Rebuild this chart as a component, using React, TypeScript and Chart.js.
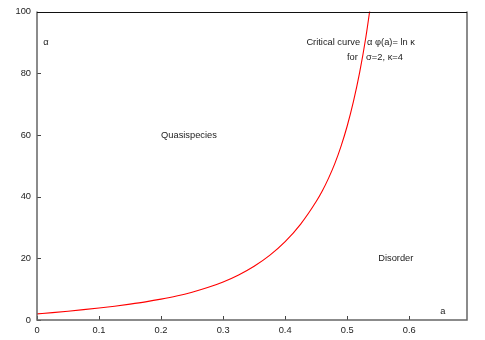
import React, { useEffect, useRef } from "react";
import { Chart, registerables } from "chart.js";

Chart.register(...registerables);

// Critical curve α(a)
const A_VALUES = [
  0, 0.025, 0.05, 0.075, 0.1, 0.125, 0.15, 0.175, 0.2, 0.225, 0.25, 0.275, 0.3, 0.325, 0.35, 0.375, 0.4, 0.425, 0.45,
  0.46, 0.47, 0.48, 0.49, 0.5, 0.51, 0.52, 0.53, 0.54,
];
const ALPHA_VALUES = [
  2.0, 2.4, 2.85, 3.35, 3.89, 4.48, 5.15, 5.89, 6.76, 7.77, 9.01, 10.51, 12.34, 14.61, 17.43, 20.95, 25.4, 31.1, 38.4,
  41.9, 46.0, 50.7, 56.3, 62.9, 70.8, 80.2, 91.6, 105.5,
];

const X_TICKS = [0, 0.1, 0.2, 0.3, 0.4, 0.5, 0.6];
const Y_TICKS = [0, 20, 40, 60, 80, 100];
const X_MIN = 0;
const X_MAX = 0.6931;
const Y_MIN = 0;
const Y_MAX = 100;

// Text labels: [text, a, alpha, align]
const LABELS: [string, number, number, CanvasTextAlign][] = [
  ["α", 0.01, 90, "left"],
  ["Quasispecies", 0.2, 60, "left"],
  ["Disorder", 0.55, 20, "left"],
  ["a", 0.65, 2.7, "left"],
  ["Critical curve", 0.5208, 90, "right"],
  ["α φ(a)= ln κ", 0.5321, 90, "left"],
  ["for", 0.517, 85, "right"],
  ["σ=2, κ=4", 0.5305, 85, "left"],
];

const FONT_FAMILY = "'Liberation Sans', Arial, Helvetica, sans-serif";
const FONT_SIZE = 9.3;

const framePlugin = {
  id: "frame",
  afterDraw(chart: any) {
    const { ctx, chartArea } = chart;
    const xs = chart.scales.x;
    const ys = chart.scales.y;
    const { left, right, top, bottom } = chartArea;
    ctx.save();
    // ticks (inside)
    ctx.strokeStyle = "#444";
    ctx.lineWidth = 1;
    ctx.beginPath();
    X_TICKS.forEach((v) => {
      const px = Math.round(xs.getPixelForValue(v)) + 0.5;
      ctx.moveTo(px, bottom);
      ctx.lineTo(px, bottom - 4);
    });
    Y_TICKS.forEach((v) => {
      const py = Math.round(ys.getPixelForValue(v)) + 0.5;
      ctx.moveTo(left, py);
      ctx.lineTo(left + 4, py);
    });
    ctx.stroke();
    // frame
    ctx.strokeStyle = "#666";
    ctx.lineWidth = 1.5;
    ctx.beginPath();
    ctx.moveTo(left, top);
    ctx.lineTo(left, bottom);
    ctx.lineTo(right, bottom);
    ctx.lineTo(right, top);
    ctx.stroke();
    ctx.strokeStyle = "#111";
    ctx.lineWidth = 1;
    ctx.beginPath();
    ctx.moveTo(left, Math.round(top) + 0.5);
    ctx.lineTo(right, Math.round(top) + 0.5);
    ctx.stroke();
    // labels
    ctx.fillStyle = "#222";
    ctx.font = `${FONT_SIZE}px ${FONT_FAMILY}`;
    ctx.textBaseline = "middle";
    LABELS.forEach(([t, a, al, align]) => {
      ctx.textAlign = align;
      ctx.fillText(t, xs.getPixelForValue(a), ys.getPixelForValue(al));
    });
    ctx.restore();
  },
};

export default function App() {
  const ref = useRef<HTMLCanvasElement | null>(null);
  useEffect(() => {
    if (!ref.current) return;
    const chart = new Chart(ref.current, {
      type: "scatter",
      data: {
        datasets: [
          {
            data: A_VALUES.map((a, i) => ({ x: a, y: ALPHA_VALUES[i] })),
            showLine: true,
            borderColor: "#ff0000",
            borderWidth: 1.1,
            pointRadius: 0,
            cubicInterpolationMode: "monotone",
          } as any,
        ],
      },
      options: {
        animation: false,
        responsive: false,
        maintainAspectRatio: false,
        layout: { padding: { left: 0, top: 11, right: 18, bottom: 0 } },
        plugins: { legend: { display: false }, tooltip: { enabled: false } },
        scales: {
          x: {
            type: "linear",
            min: X_MIN,
            max: X_MAX,
            afterBuildTicks: (s: any) => {
              s.ticks = X_TICKS.map((v) => ({ value: v }));
            },
            afterFit: (s: any) => {
              s.height = 20;
            },
            grid: { display: false, drawTicks: false },
            border: { display: false },
            ticks: {
              padding: 5,
              maxRotation: 0,
              autoSkip: false,
              color: "#222",
              font: { family: FONT_FAMILY, size: FONT_SIZE },
              callback: (v: any) => String(v),
            },
          },
          y: {
            type: "linear",
            min: Y_MIN,
            max: Y_MAX,
            afterBuildTicks: (s: any) => {
              s.ticks = Y_TICKS.map((v) => ({ value: v }));
            },
            afterFit: (s: any) => {
              s.width = 37;
            },
            grid: { display: false, drawTicks: false },
            border: { display: false },
            ticks: {
              padding: 6,
              autoSkip: false,
              color: "#222",
              font: { family: FONT_FAMILY, size: FONT_SIZE },
              callback: (v: any) => String(v),
            },
          },
        },
      },
      plugins: [framePlugin],
    });
    return () => chart.destroy();
  }, []);
  return (
    <div style={{ position: "absolute", left: 0, top: 0, width: 485, height: 340, background: "#fff" }}>
      <canvas ref={ref} width={485} height={340} style={{ width: 485, height: 340 }} />
    </div>
  );
}
